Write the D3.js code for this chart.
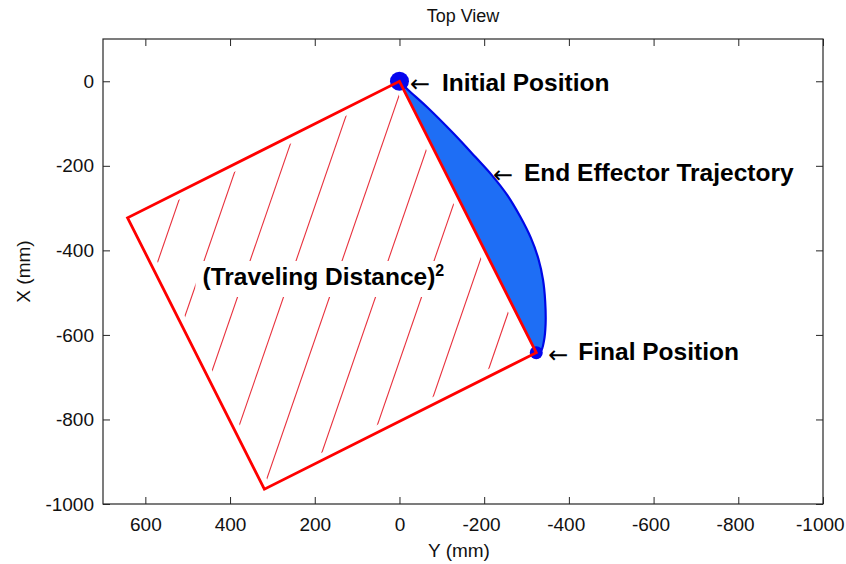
<!DOCTYPE html>
<html>
<head>
<meta charset="utf-8">
<script src="https://cdn.jsdelivr.net/npm/d3@7/dist/d3.min.js"></script>
<style>
  body { margin: 0; background: #fff; }
  svg { display: block; }
  text { font-family: "Liberation Sans", Arial, sans-serif; }
</style>
</head>
<body>
<svg id="chart" width="846" height="564"></svg>
<script>
// Tick values: horizontal axis is Y (mm), reversed; vertical axis is X (mm)
const yAxisTicks = [600, 400, 200, 0, -200, -400, -600, -800, -1000];
const xAxisTicks = [0, -200, -400, -600, -800, -1000];

// Start and end of the move, in (Y, X) mm
const initialPos = [0, 0];
const finalPos = [-323, -642];

// End effector path, Y and X in mm
const trajY = [0, -20, -65, -126, -180, -218, -255, -285, -310, -328, -339, -344, -345, -341, -334, -323];
const trajX = [0, -20, -61, -122, -180, -222, -270, -320, -370, -420, -470, -520, -575, -615, -638, -642];

const svg = d3.select("#chart");
const plotL = 103, plotR = 823, plotT = 39, plotB = 504;

const sx = d3.scaleLinear().domain([700, -1000]).range([plotL, plotR]);
const sy = d3.scaleLinear().domain([100, -1000]).range([plotT, plotB]);

// Square built on the straight-line distance from start to end
const dv = [finalPos[0] - initialPos[0], finalPos[1] - initialPos[1]];
const perp = [-dv[1], dv[0]];
const square = [
  initialPos,
  finalPos,
  [finalPos[0] + perp[0], finalPos[1] + perp[1]],
  [initialPos[0] + perp[0], initialPos[1] + perp[1]]
];
const squarePx = square.map(p => [sx(p[0]), sy(p[1])]);

const axisColor = "#262626";
const fmt = v => String(v);
const tickFont = 19;

// Axes with inward ticks on all four sides
const gB = svg.append("g").attr("transform", `translate(0,${plotB})`)
  .call(d3.axisBottom(sx).tickValues(yAxisTicks).tickFormat(fmt).tickSizeInner(-7).tickSizeOuter(0).tickPadding(14));
const gT = svg.append("g").attr("transform", `translate(0,${plotT})`)
  .call(d3.axisTop(sx).tickValues(yAxisTicks).tickFormat("").tickSizeInner(-7).tickSizeOuter(0));
const gL = svg.append("g").attr("transform", `translate(${plotL},0)`)
  .call(d3.axisLeft(sy).tickValues(xAxisTicks).tickFormat(fmt).tickSizeInner(-7).tickSizeOuter(0).tickPadding(9));
const gR = svg.append("g").attr("transform", `translate(${plotR},0)`)
  .call(d3.axisRight(sy).tickValues(xAxisTicks).tickFormat("").tickSizeInner(-7).tickSizeOuter(0));
[gB, gT, gL, gR].forEach(g => {
  g.select(".domain").remove();
  g.selectAll(".tick line").attr("stroke", axisColor);
  g.selectAll(".tick text").attr("fill", "#111").style("font-size", tickFont + "px")
    .style("font-family", "'Liberation Sans', Arial, sans-serif");
});
// bottom labels are centred on their digits, the minus sign hangs to the left
gB.selectAll(".tick text").attr("dx", v => v < 0 ? -0.333 * tickFont / 2 : 0);

svg.append("rect")
  .attr("x", plotL).attr("y", plotT).attr("width", plotR - plotL).attr("height", plotB - plotT)
  .attr("fill", "none").attr("stroke", axisColor).attr("stroke-width", 1.2);

// Hatching inside the square (clipped to a slightly inset copy)
const cx = d3.mean(squarePx, p => p[0]), cy = d3.mean(squarePx, p => p[1]);
const inset = squarePx.map(p => [cx + (p[0] - cx) * 0.955, cy + (p[1] - cy) * 0.955]);
svg.append("clipPath").attr("id", "sqclip")
  .append("path").attr("d", "M" + inset.map(p => p.join(",")).join("L") + "Z");

const slope = 0.345, step = 46;
const ax = sx(249), ay = sy(-754);
const hatch = d3.range(-14, 15).map(k => {
  const x0 = ax + k * step;
  return [[x0 + slope * 600, ay - 600], [x0 - slope * 600, ay + 600]];
});
svg.append("g").attr("clip-path", "url(#sqclip)")
  .selectAll("line").data(hatch).join("line")
  .attr("x1", h => h[0][0]).attr("y1", h => h[0][1])
  .attr("x2", h => h[1][0]).attr("y2", h => h[1][1])
  .attr("stroke", "#e8303c").attr("stroke-width", 1.1);

// Area label with white background
const lab = svg.append("g");
const lt = lab.append("text")
  .attr("x", 202.5).attr("y", 285)
  .style("font-size", "24.5px").style("font-weight", "bold").attr("fill", "#000");
lt.append("tspan").text("(Traveling Distance)");
lt.append("tspan").attr("dy", -9).style("font-size", "16px").text("2");
const bb = lt.node().getBBox();
lab.insert("rect", "text")
  .attr("x", bb.x - 7).attr("y", bb.y - 1)
  .attr("width", bb.width + 12).attr("height", bb.height + 8)
  .attr("fill", "#fff");

// Trajectory band between the path and the straight line
const traj = trajY.map((v, i) => [sx(v), sy(trajX[i])]);
const curve = d3.line().curve(d3.curveCatmullRom);
svg.append("path").attr("d", curve(traj) + "Z")
  .attr("fill", "#1e6ef5").attr("stroke", "none");
svg.append("path").attr("d", curve(traj))
  .attr("fill", "none").attr("stroke", "#0008e6").attr("stroke-width", 2.2);

// Start / end markers
svg.append("circle").attr("cx", sx(initialPos[0])).attr("cy", sy(initialPos[1])).attr("r", 9.5).attr("fill", "#0505ee");
svg.append("circle").attr("cx", sx(finalPos[0])).attr("cy", sy(finalPos[1])).attr("r", 6.5).attr("fill", "#0505ee");

// Square outline
svg.append("path")
  .attr("d", "M" + squarePx.map(p => p.join(",")).join("L") + "Z")
  .attr("fill", "none").attr("stroke", "#ff0000").attr("stroke-width", 2.8)
  .attr("stroke-linejoin", "miter");

// Annotations
function note(arrowX, arrowY, textX, baseY, label) {
  svg.append("text").attr("x", arrowX).attr("y", arrowY + 8.5)
    .style("font-family", "'DejaVu Sans', sans-serif").style("font-size", "24px")
    .attr("fill", "#000").text("\u2190");
  svg.append("text").attr("x", textX).attr("y", baseY)
    .style("font-size", "24.5px").style("font-weight", "bold").attr("fill", "#000").text(label);
}
note(sx(initialPos[0]) + 10.5, sy(initialPos[1]) + 2, sx(initialPos[0]) + 42.5, sy(initialPos[1]) + 9.5, "Initial Position");
note(493, 174, 524, 180.7, "End Effector Trajectory");
note(sx(finalPos[0]) + 12, sy(finalPos[1]) + 2, sx(finalPos[0]) + 42, sy(finalPos[1]) + 7.5, "Final Position");

// Title and axis labels
svg.append("text").attr("x", 463).attr("y", 22).attr("text-anchor", "middle")
  .style("font-size", "18px").attr("fill", "#111").text("Top View");
svg.append("text").attr("x", 459).attr("y", 557).attr("text-anchor", "middle")
  .style("font-size", "19px").attr("fill", "#111").text("Y (mm)");
svg.append("text").attr("transform", "translate(30,271.5) rotate(-90)").attr("text-anchor", "middle")
  .style("font-size", "19px").attr("fill", "#111").text("X (mm)");
</script>
</body>
</html>
